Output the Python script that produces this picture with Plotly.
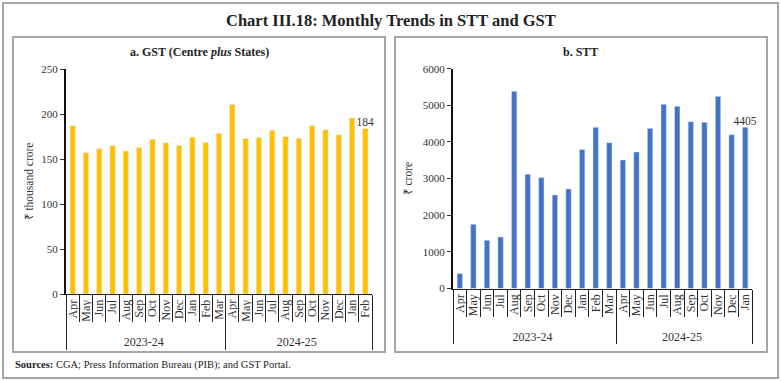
import plotly.graph_objects as go

months_gst = ["Apr","May","Jun","Jul","Aug","Sep","Oct","Nov","Dec","Jan","Feb","Mar",
              "Apr","May","Jun","Jul","Aug","Sep","Oct","Nov","Dec","Jan","Feb"]
years_gst = ["2023-24"]*12 + ["2024-25"]*11
gst_values = [187, 157, 161.5, 165, 159, 162.7, 172, 168, 165, 174.3, 168.3, 178.5,
              210.5, 172.7, 173.7, 182, 175, 173, 187.3, 182.5, 177, 195.6, 184]

months_stt = ["Apr","May","Jun","Jul","Aug","Sep","Oct","Nov","Dec","Jan","Feb","Mar",
              "Apr","May","Jun","Jul","Aug","Sep","Oct","Nov","Dec","Jan"]
years_stt = ["2023-24"]*12 + ["2024-25"]*10
stt_values = [409, 1755, 1320, 1409, 5382, 3118, 3027, 2555, 2718, 3791, 4400, 3982,
              3509, 3727, 4373, 5027, 4973, 4555, 4536, 5245, 4200, 4405]

gst_text = [""]*(len(gst_values)-1) + ["184"]
stt_text = [""]*(len(stt_values)-1) + ["4405"]

FONT = "Liberation Serif"
W, H = 781, 381

def px(x):
    return x / W

def py(y):
    return (H - y) / H

fig = go.Figure()
fig.add_trace(go.Bar(x=[years_gst, months_gst], y=gst_values, marker_color="#FFC000",
                     text=gst_text, textposition="outside", cliponaxis=False,
                     textangle=0, constraintext="none",
                     textfont=dict(family=FONT, size=11.5, color="#333333"),
                     xaxis="x", yaxis="y", showlegend=False))
fig.add_trace(go.Bar(x=[years_stt, months_stt], y=stt_values, marker_color="#4472C4",
                     text=stt_text, textposition="outside", cliponaxis=False,
                     textangle=0, constraintext="none",
                     textfont=dict(family=FONT, size=11.5, color="#333333"),
                     xaxis="x2", yaxis="y2", showlegend=False))

xtickfont = dict(family=FONT, size=12, color="#333333")
ytickfont = dict(family=FONT, size=11, color="#333333")
xcommon = dict(type="multicategory", tickmode="linear", tick0=0, dtick=1,
               tickangle=-90, tickfont=xtickfont, showline=True,
               linecolor="#222222", linewidth=1, ticks="outside", tickcolor="#222222",
               ticklen=27, automargin=False,
               showdividers=True, dividercolor="#222222", dividerwidth=1, showgrid=False)
ycommon = dict(showline=True, linecolor="#111111", linewidth=2, ticks="outside",
               ticklen=4, tickcolor="#333333", tickfont=ytickfont, showgrid=False,
               zeroline=False, automargin=False)
fig.update_layout(
    width=W, height=H, margin=dict(l=0, r=0, t=0, b=0, autoexpand=False),
    paper_bgcolor="white", plot_bgcolor="white", bargap=0.6,
    font=dict(family=FONT, color="#333333"),
    xaxis=dict(domain=[px(66), px(372)], anchor="y", **xcommon),
    yaxis=dict(domain=[py(294), py(69)], range=[0, 250], dtick=50, anchor="x",
               title=dict(text="₹ thousand crore", font=dict(family=FONT, size=11.5), standoff=5),
               **ycommon),
    xaxis2=dict(domain=[px(453), px(752)], anchor="y2", **xcommon),
    yaxis2=dict(domain=[py(288.5), py(68.7)], range=[0, 6000], dtick=1000, anchor="x2",
                title=dict(text="₹ crore", font=dict(family=FONT, size=11.5), standoff=8),
                **ycommon),
)

border = "#A6A6A6"
fig.add_shape(type="rect", xref="paper", yref="paper", x0=px(3), x1=px(778), y0=py(378), y1=py(3),
              line=dict(color=border, width=2))
fig.add_shape(type="rect", xref="paper", yref="paper", x0=px(13), x1=px(385), y0=py(352), y1=py(37),
              line=dict(color=border, width=2))
fig.add_shape(type="rect", xref="paper", yref="paper", x0=px(395), x1=px(767), y0=py(352), y1=py(37),
              line=dict(color=border, width=2))

fig.add_annotation(text="<b>Chart III.18: Monthly Trends in STT and GST</b>", xref="paper", yref="paper",
                   x=px(391), y=py(20), xanchor="center", yanchor="middle", showarrow=False,
                   font=dict(family=FONT, size=16.5, color="#222222"))
fig.add_annotation(text="<b>a. GST (Centre <i>plus</i> States)</b>", xref="paper", yref="paper",
                   x=px(199), y=py(52), xanchor="center", yanchor="middle", showarrow=False,
                   font=dict(family=FONT, size=12, color="#222222"))
fig.add_annotation(text="<b>b. STT</b>", xref="paper", yref="paper",
                   x=px(580), y=py(52), xanchor="center", yanchor="middle", showarrow=False,
                   font=dict(family=FONT, size=12, color="#222222"))
fig.add_annotation(text="<b>Sources:</b> CGA; Press Information Bureau (PIB); and GST Portal.",
                   xref="paper", yref="paper", x=px(13), y=py(365), xanchor="left", yanchor="middle",
                   showarrow=False, font=dict(family=FONT, size=10.5, color="#222222"))

fig.write_html("out.html", config={"displayModeBar": False},
               post_script="document.body.style.margin='0';document.body.style.overflow='hidden';")
